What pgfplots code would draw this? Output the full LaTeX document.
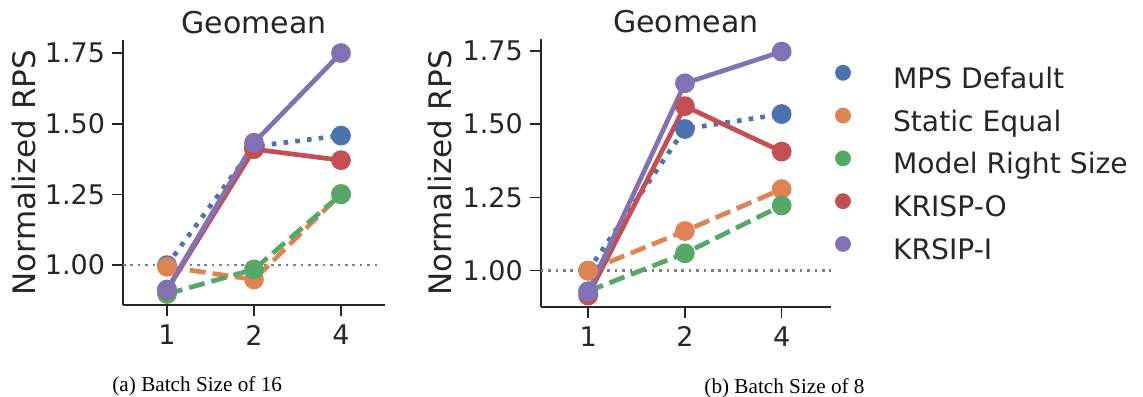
\documentclass[border=0pt]{standalone}
\usepackage{pgfplots}
\pgfplotsset{compat=1.18}
\usepackage{fontspec}
\setmainfont{DejaVu Sans}
\newfontfamily\capfont{Liberation Serif}
\definecolor{c1}{HTML}{4C72B0}
\definecolor{c2}{HTML}{DD8452}
\definecolor{c3}{HTML}{55A868}
\definecolor{c4}{HTML}{C44E52}
\definecolor{c5}{HTML}{8172B3}
\definecolor{txt}{HTML}{262626}
\definecolor{refgray}{HTML}{808080}
\pgfplotsset{
  base/.style={
    scale only axis,
    clip=false,
    axis x line*=bottom, axis y line*=left,
    axis line style={-, txt, line width=0.8pt},
    every outer x axis line/.append style={-},
    every outer y axis line/.append style={-},
    tick style={txt, line width=0.8pt},
    major tick length=5.5pt,
    tick align=outside,
    xtick={0,1,2}, xticklabels={1,2,4},
    ytick={1,1.25,1.5,1.75},
    yticklabel={\pgfmathprintnumber[fixed,fixed zerofill,precision=2]{\tick}},
    /pgf/number format/assume math mode=true,
    ticklabel style={font=\fontsize{13.5}{16}\selectfont, text=txt},
    xticklabel style={inner sep=4.3pt},
    yticklabel style={inner xsep=3.3pt},
    every axis title shift=0pt,
    title style={at={(axis description cs:0.5,1)}, anchor=base, yshift=3.3pt, font=\fontsize{15}{18}\selectfont, text=txt},
    label style={font=\fontsize{15.5}{18}\selectfont, text=txt},
    title={Geomean},
    ylabel={Normalized RPS},
  },
  lw/.style={line width=2.35pt, mark=*, mark size=3.75pt, mark options={solid}},
  s1/.style={lw, c1, line cap=butt, dash pattern=on 2.3pt off 3.6pt},
  s2/.style={lw, c2, dash pattern=on 8pt off 3.5pt},
  s3/.style={lw, c3, dash pattern=on 8pt off 3.5pt},
  s4/.style={lw, c4},
  s5/.style={lw, c5},
  refl/.style={refgray, line width=1.2pt, dash pattern=on 1.3pt off 2.4pt, forget plot},
}
\begin{document}
\begin{tikzpicture}
\useasboundingbox (0,0) rectangle (571.5pt,198pt);
% (a) Batch size 16
\begin{axis}[base,
  at={(61.5pt,45.5pt)}, anchor=south west,
  width=131pt, height=132.5pt,
  xmin=-0.506, xmax=2.506, ymin=0.859, ymax=1.796,
  ylabel style={at={(axis description cs:-0.378,0.5)}, anchor=center},
]
\addplot[refl] coordinates {(-0.506,1) (2.45,1)};
\addplot[s1] coordinates {(0,1.000) (1,1.420) (2,1.458)};
\addplot[s2] coordinates {(0,0.994) (1,0.949) (2,1.252)};
\addplot[s3] coordinates {(0,0.898) (1,0.985) (2,1.250)};
\addplot[s4] coordinates {(0,0.912) (1,1.410) (2,1.371)};
\addplot[s5] coordinates {(0,0.914) (1,1.433) (2,1.750)};
\end{axis}
% (b) Batch size 8
\begin{axis}[base,
  at={(270.35pt,44.65pt)}, anchor=south west,
  width=145.15pt, height=133.7pt,
  xmin=-0.49, xmax=2.51, ymin=0.877, ymax=1.789,
  ylabel style={at={(axis description cs:-0.347,0.5)}, anchor=center},
  legend style={at={(axis description cs:1.0155,0.9028)}, anchor=north west,
    draw=none, fill=none, inner sep=0pt, outer sep=0pt,
    row sep=6.4pt, column sep=0pt,
    font=\fontsize{14.1}{17}\selectfont, text=txt,
    nodes={inner sep=0pt, outer sep=0pt, text height=11pt, text depth=3.5pt}},
  legend cell align=left,
  legend image code/.code={\draw[#1] plot coordinates {(0pt,4pt)}; \path[draw=none, fill=none] (-3.75pt,0pt) -- (25pt,0pt);},
]
\addplot[refl] coordinates {(-0.49,1) (2.51,1)};
\addplot[s1, forget plot] coordinates {(0,1.000) (1,1.483) (2,1.534)};
\addplot[s2, forget plot] coordinates {(0,1.000) (1,1.135) (2,1.278)};
\addplot[s3, forget plot] coordinates {(0,0.930) (1,1.059) (2,1.222)};
\addplot[s4, forget plot] coordinates {(0,0.915) (1,1.561) (2,1.406)};
\addplot[s5, forget plot] coordinates {(0,0.928) (1,1.639) (2,1.747)};
\addlegendimage{only marks, mark=*, mark size=3.75pt, c1}
\addlegendentry{MPS Default}
\addlegendimage{only marks, mark=*, mark size=3.75pt, c2}
\addlegendentry{Static Equal}
\addlegendimage{only marks, mark=*, mark size=3.75pt, c3}
\addlegendentry{Model Right Size}
\addlegendimage{only marks, mark=*, mark size=3.75pt, c4}
\addlegendentry{KRISP-O}
\addlegendimage{only marks, mark=*, mark size=3.75pt, c5}
\addlegendentry{KRSIP-I}
\end{axis}
\node[font=\capfont\fontsize{10.6}{12}\selectfont, anchor=base, inner sep=0pt] at (98.6pt,2.35pt) {(a) Batch Size of 16};
\node[font=\capfont\fontsize{10.6}{12}\selectfont, anchor=base, inner sep=0pt] at (392.25pt,1.5pt) {(b) Batch Size of 8};
\end{tikzpicture}
\end{document}
